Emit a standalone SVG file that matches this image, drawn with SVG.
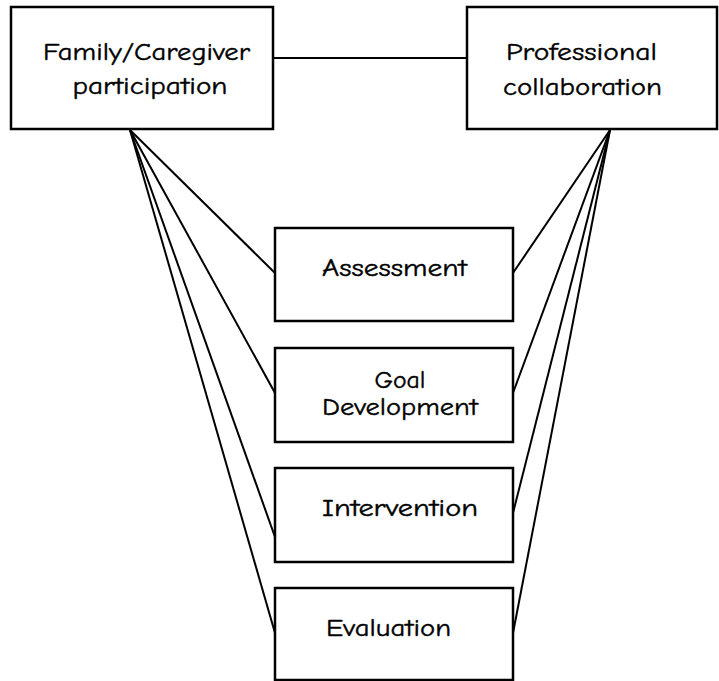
<svg xmlns="http://www.w3.org/2000/svg" width="719" height="681" viewBox="0 0 719 681">
<style>
rect.box{fill:#fff;stroke:#000;stroke-width:2.5}
.c line{stroke:#000;stroke-width:2}
text{font-family:"Comic Sans MS","Comic Neue","DejaVu Sans",sans-serif;font-size:24px;fill:#000;stroke:#000;stroke-width:0.4;text-anchor:middle}
</style>
<rect width="719" height="681" fill="#fff"/>
<g class="c" id="connectors">
<line x1="273" y1="58" x2="467" y2="58"/>
<line x1="130" y1="130" x2="275" y2="273"/>
<line x1="130" y1="130" x2="275" y2="393"/>
<line x1="130" y1="130" x2="275" y2="537"/>
<line x1="130" y1="130" x2="275" y2="633"/>
<line x1="610" y1="130" x2="513" y2="273"/>
<line x1="610" y1="130" x2="513" y2="393"/>
<line x1="610" y1="130" x2="513" y2="513"/>
<line x1="610" y1="130" x2="513" y2="633"/>
</g>
<g id="family">
<rect class="box" x="11" y="7" width="262" height="122"/>
<text x="146.5" y="60" textLength="207" lengthAdjust="spacingAndGlyphs">Family/Caregiver</text>
<text x="150" y="94" textLength="155" lengthAdjust="spacingAndGlyphs">participation</text>
</g>
<g id="professional">
<rect class="box" x="467" y="7" width="250" height="122"/>
<text x="581.5" y="60" textLength="151" lengthAdjust="spacingAndGlyphs">Professional</text>
<text x="582.5" y="95" textLength="159" lengthAdjust="spacingAndGlyphs">collaboration</text>
</g>
<g id="assessment">
<rect class="box" x="275" y="228" width="238" height="93"/>
<text x="394.5" y="276" textLength="145" lengthAdjust="spacingAndGlyphs">Assessment</text>
</g>
<g id="goal">
<rect class="box" x="275" y="348" width="238" height="94"/>
<text x="400" y="388" textLength="51" lengthAdjust="spacingAndGlyphs">Goal</text>
<text x="400" y="415" textLength="156" lengthAdjust="spacingAndGlyphs">Development</text>
</g>
<g id="intervention">
<rect class="box" x="275" y="468" width="238" height="94"/>
<text x="400" y="516" textLength="156" lengthAdjust="spacingAndGlyphs">Intervention</text>
</g>
<g id="evaluation">
<rect class="box" x="275" y="588" width="238" height="92"/>
<text x="388.5" y="636" textLength="125" lengthAdjust="spacingAndGlyphs">Evaluation</text>
</g>
</svg>
